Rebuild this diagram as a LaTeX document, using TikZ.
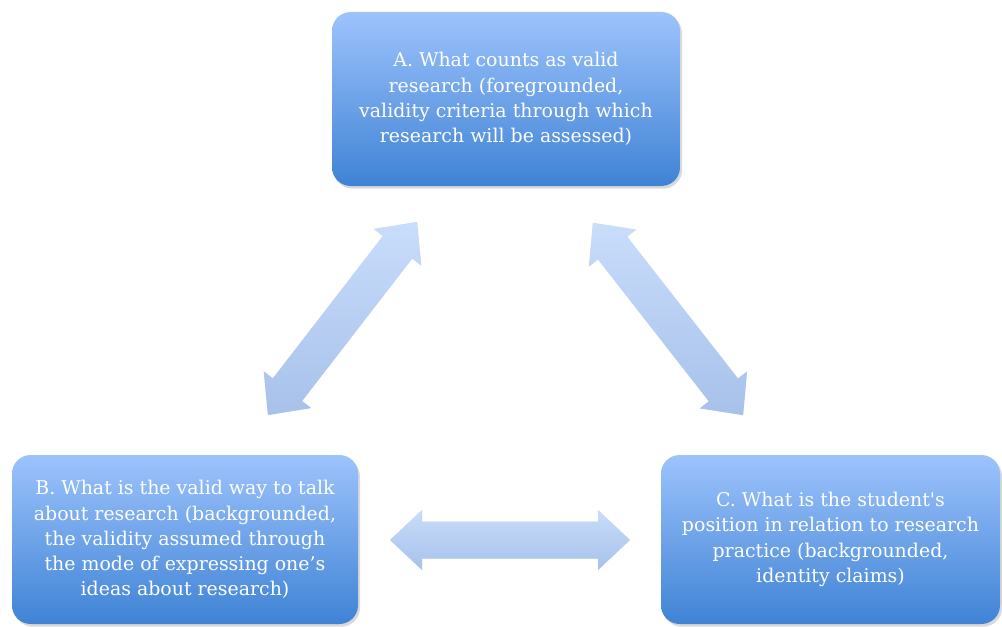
\documentclass[tikz,border=0pt]{standalone}
\usepackage{fontspec}
\setmainfont{DejaVu Serif}
\newfontfamily\rawserif{DejaVu Serif}
\usetikzlibrary{calc,shadows}
\definecolor{boxtop}{HTML}{9DC3FC}
\definecolor{boxbot}{HTML}{3F83D5}
\definecolor{arrtop}{HTML}{C9DDFB}
\definecolor{arrbot}{HTML}{A7C1EA}
\tikzset{
  box/.style={rectangle, rounded corners=14pt, top color=boxtop, bottom color=boxbot,
    draw=none, text=white, align=center, inner sep=0pt,
    font=\fontsize{14.2}{18.9}\selectfont,
    drop shadow={shadow xshift=1.5pt, shadow yshift=-2pt, opacity=0.25, fill=black!60}},
  arrowfill/.style={top color=arrtop, bottom color=arrbot, draw=none},
  arrowshadow/.style={fill=black, opacity=0.12, draw=none},
}
% name, center, angle, half-length
\newcommand\dblarrow[4]{%
  \coordinate (#1) at #2;
  \foreach \sty/\off in {arrowshadow/{(2.5,-3.5)}, arrowfill/{(0,0)}}{
  \path[\sty, shift={\off}]
    ($(#1)+(#3:#4)$) --
    ($(#1)+(#3:#4-32)+(#3+90:30)$) --
    ($(#1)+(#3:#4-32)+(#3+90:18.5)$) --
    ($(#1)+(#3+180:#4-32)+(#3+90:18.5)$) --
    ($(#1)+(#3+180:#4-32)+(#3+90:30)$) --
    ($(#1)+(#3+180:#4)$) --
    ($(#1)+(#3+180:#4-32)+(#3-90:30)$) --
    ($(#1)+(#3+180:#4-32)+(#3-90:18.5)$) --
    ($(#1)+(#3:#4-32)+(#3-90:18.5)$) --
    ($(#1)+(#3:#4-32)+(#3-90:30)$) -- cycle;
  }
}
\begin{document}
\begin{tikzpicture}[x=0.75pt,y=0.75pt]
\useasboundingbox (0,0) rectangle (1002,626);
\node[box, minimum width=348*0.75pt, minimum height=174*0.75pt] (A) at (506,527)
  {A. What counts as valid\\research (foregrounded,\\validity criteria through which\\research will be assessed)};
\node[box, minimum width=346*0.75pt, minimum height=169*0.75pt] (B) at (185,86.5)
  {B. What is the valid way to talk\\about research (backgrounded,\\the validity assumed through\\the mode of expressing one’s\\ideas about research)};
\node[box, minimum width=339*0.75pt, minimum height=169*0.75pt] (C) at (830.5,86.5)
  {C. What is the student{\rawserif'}s\\position in relation to research\\practice (backgrounded,\\identity claims)};
\dblarrow{AB}{(342.5,307.5)}{52.3}{122}
\dblarrow{AC}{(668,307)}{-52}{122}
\dblarrow{BC}{(510,86)}{0}{120}
\end{tikzpicture}
\end{document}
